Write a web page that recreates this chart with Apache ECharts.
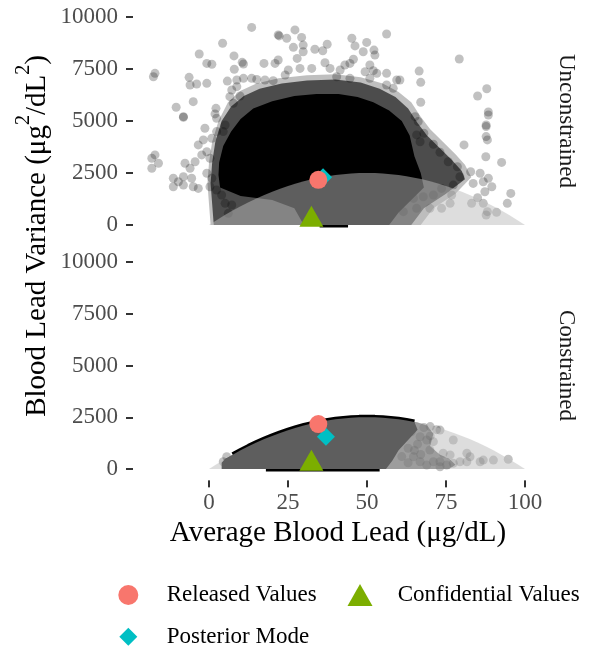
<!DOCTYPE html>
<html><head><meta charset="utf-8">
<script src="https://cdn.jsdelivr.net/npm/echarts@6/dist/echarts.min.js"></script>
<style>html,body{margin:0;padding:0;background:#fff}#c{width:590px;height:647px}</style>
</head><body><div id="c"></div>
<script>
// ---------- data ----------
const xTicks = [0, 25, 50, 75, 100];
const yTicks = [0, 2500, 5000, 7500, 10000];
const panels = ['Unconstrained', 'Constrained'];
const xTitle = 'Average Blood Lead (μg/dL)';
const seriesNames = ['Released Values', 'Confidential Values', 'Posterior Mode'];

// marker values per panel [Unconstrained, Constrained]
const released = [[34.6, 2170], [34.6, 2170]];
const confidential = [[32.4, 250], [32.4, 250]];
const posterior = [[36.1, 2290], [37.0, 1560]];

// feasible-region boundary (grey dome)
const boundary = [[0,0],[2.5,244],[5,475],[7.5,694],[10,900],[12.5,1094],[15,1275],[17.5,1444],[20,1600],[22.5,1744],[25,1875],[27.5,1994],[30,2100],[32.5,2194],[35,2275],[37.5,2344],[40,2400],[42.5,2444],[45,2475],[47.5,2494],[50,2500],[52.5,2494],[55,2475],[57.5,2444],[60,2400],[62.5,2344],[65,2275],[67.5,2194],[70,2100],[72.5,1994],[75,1875],[77.5,1744],[80,1600],[82.5,1444],[85,1275],[87.5,1094],[90,900],[92.5,694],[95,475],[97.5,244],[100,0]];

// Unconstrained panel: individually visible draws
const topPoints = [[13.5,9500],[22.2,9090],[4.3,8740],[-3.1,8220],[7.9,8130],[-0.7,7770],[0.9,7730],[10.5,7820],[10.9,7740],[17.4,7770],[8.0,7490],[-17.1,7290],[-17.6,7130],[-6.3,7100],[-6.0,6730],[-3.9,6780],[-0.7,6810],[5.8,6920],[8.8,6970],[10.9,7050],[13.5,7050],[15.1,7000],[17.7,6970],[20.3,6940],[-5.0,5930],[-10.4,5660],[-8.1,5180],[2.2,5610],[1.9,5340],[7.2,6490],[8.8,6650],[6.6,6170],[9.8,6200],[7.7,5850],
[27.2,9380],[21.9,9140],[24.6,8980],[29.3,9020],[56.2,9180],[26.7,8540],[29.8,8650],[29.8,8330],[33.5,8450],[36.0,8380],[37.4,8690],[45.2,8980],[46.2,8610],[49.9,8780],[52.2,8410],[52.5,8170],[48.8,8330],[27.9,8010],[21.9,7930],[20.9,7770],[36.7,7800],[38.3,7530],[45.7,7970],[43.0,7690],[44.6,7770],[50.9,7690],[52.0,7420],[49.4,7370],[56.2,7290],[53.1,7290],[59.4,6970],[56.2,6730],[58.3,6570],[28.8,7530],[25.1,7450],[24.1,7210],[32.5,7530],[41.5,7450],[40.4,7130],[44.6,7050],[50.9,7050],
[60.4,6970],[66.5,7400],[67.0,6860],[79.2,7980],[87.9,6550],[85.0,6200],[67.0,5900],[88.4,5430],[65.2,5210],[66.2,4970],[87.7,4810],
[88.4,5290],[87.7,4730],[87.7,4250],[88.1,4090],[80.7,3850],[87.6,3280],[92.6,3010],[65.7,4330],[68.0,4410],[66.8,4000],[71.0,3880],[73.1,3500],[75.7,3040],[78.6,2800],[82.8,2560],[85.8,2490],[88.4,2250],[83.6,2000],[86.8,2080],[89.5,1840],[87.3,1600],[85.0,1310],[83.1,1040],[86.8,1040],[95.5,1520],[94.4,1040],[88.1,640],[91.0,610],[87.7,480],[79.4,2320],[77.3,1920],[73.6,1760],[76.8,1440],[76.3,1040],[73.6,800],[69.9,800],[65.7,800],[71.0,1440],[67.8,1360],[64.7,1280],[61.5,640],
[-8.1,5210],[-1.3,4650],[-17.1,3370],[-18.1,3210],[-16.0,2970],[-18.1,2730],[-7.6,2970],[-6.0,2730],[-4.4,3040],[-11.3,2250],[-8.1,2320],[-9.7,2080],[-11.3,1840],[-8.1,1920],[-5.5,2250],[-5.0,1840],[-3.4,1760],[-3.4,3850],[-1.8,4090],[0.9,4170],[2.4,4490],[-0.7,3520],[0.3,3210],[-2.3,3370],[-0.7,2490],[0.9,2250],[0.3,1840],[2.4,1680],[4.0,1440],[5.1,1040],[6.1,560],[7.2,960],[2.4,5130],[5.1,4810],[4.5,4490]];
// Unconstrained panel: saturated core and semi-dense fringes of the point cloud (outlines)
const topCore = [[30,0],[27,800],[20,1200],[10,1400],[3.5,1800],[3,2400],[3.2,3000],[4.5,3800],[7,4500],[10,5100],[14,5600],[20,5950],[27,6200],[34,6300],[41,6300],[47,6150],[52,5900],[57,5500],[61,5000],[63.5,4300],[65,3300],[67,2500],[68,1800],[64,1200],[60,600],[57,0]];
const topFringe = [[1.5,0],[1,1000],[0.5,2000],[1,3000],[2,4000],[4,5000],[7,5700],[11,6200],[16,6550],[23,6800],[31,6950],[40,7000],[48,6850],[54,6550],[59,6150],[63,5600],[66,4900],[69,4300],[73,3700],[77,3100],[80,2600],[81,2200],[75,1500],[68,800],[64,0]];
const topOuter = [[0.5,0],[0,1000],[-0.5,2000],[0,3000],[1,4000],[3,5000],[6,5900],[10,6450],[15,6800],[22,7050],[31,7200],[40,7250],[48,7100],[55,6800],[60,6400],[64,5900],[67,5200],[70,4600],[74,4000],[78,3400],[81,2900],[83,2300],[78,1500],[71,800],[67,0]];
const topBaseRim = [[35,0],[44,0]];

// Constrained panel
const botPoints = [[73.1,1880],[77.3,1400],[71.0,1320],[69.9,920],[74.1,760],[76.3,680],[81.6,760],[82.6,590],[79.4,350],[77.3,280],[75.2,190],[73.1,110],[81.6,350],[85.8,350],[86.8,430],[90.0,430],[94.7,470],[66.8,1560],[68.9,1400],[64.7,590],[66.8,350],[68.9,190],[71.0,350],[73.1,350],[5.6,590],[4.5,350],[62,2000],[64,1800],[66,1200],[63,1000],[65,900],[61,600],[63,300],[67,700],[70,1600],[68,2000],[70,2050],[72,1900]];
const botCore = [[4,0],[4,300],[5,475],[10,900],[15,1275],[20,1600],[25,1875],[30,2100],[35,2275],[40,2400],[45,2475],[50,2500],[55,2475],[60,2400],[65,2275],[66,1900],[63,1400],[60,900],[58,400],[56,0]];
const botFringe = [[54,0],[56,600],[58,1400],[60,2000],[62,2356],[66,2244],[69,2100],[71,1700],[70,1100],[73,700],[76,500],[78,200],[76,0]];
const botTopRimRange = [6, 67];
const botBaseRim = [[18,0],[54,0]];

// ---------- chart ----------
const FF = "'Liberation Serif', 'DejaVu Serif', serif";
const chart = echarts.init(document.getElementById('c'));
const Y_MIN = -500, Y_MAX = 10500, X_MIN = -22, X_MAX = 105;

function poly(data, g, color) {
  return {
    type: 'custom', coordinateSystem: 'cartesian2d', xAxisIndex: g, yAxisIndex: g, z: 1,
    data: data, silent: true, encode: {x: 0, y: 1},
    renderItem: (params, api) => params.dataIndex === 0 ? {
      type: 'polygon', shape: {points: data.map(p => api.coord(p))}, style: {fill: color}
    } : null
  };
}
function rim(data, g, w) {
  return {type: 'line', xAxisIndex: g, yAxisIndex: g, data: data, symbol: 'none', silent: true, z: 1,
    lineStyle: {color: '#000', width: w}};
}
function pts(data, g) {
  return {type: 'scatter', xAxisIndex: g, yAxisIndex: g, data: data, symbolSize: 9, silent: true, z: 1,
    itemStyle: {color: 'rgba(0,0,0,0.3)'}};
}
function dome(g) {
  return {type: 'line', xAxisIndex: g, yAxisIndex: g, data: boundary, symbol: 'none', silent: true, z: 2,
    lineStyle: {width: 0, opacity: 0}, areaStyle: {color: 'rgba(187,187,187,0.5)', opacity: 1}};
}
function markers(g) {
  return [
    {name: seriesNames[2], type: 'scatter', xAxisIndex: g, yAxisIndex: g, data: [posterior[g]], z: 3,
      symbol: 'diamond', symbolSize: 18, itemStyle: {color: '#00BFC4', opacity: 1}},
    {name: seriesNames[0], type: 'scatter', xAxisIndex: g, yAxisIndex: g, data: [released[g]], z: 4,
      symbol: 'circle', symbolSize: 18, itemStyle: {color: '#F8766D', opacity: 1}},
    {name: seriesNames[1], type: 'scatter', xAxisIndex: g, yAxisIndex: g, data: [confidential[g]], z: 5,
      symbol: 'triangle', symbolSize: [24, 21], symbolOffset: [0, -3.5], itemStyle: {color: '#7CAE00', opacity: 1}}
  ];
}

const series = [
  poly(topOuter, 0, 'rgba(0,0,0,0.25)'),
  poly(topFringe, 0, 'rgba(0,0,0,0.6)'),
  poly(topCore, 0, '#000'),
  rim(topBaseRim, 0, 5),
  pts(topPoints, 0),
  dome(0),
  ...markers(0),
  poly(botFringe, 1, 'rgba(0,0,0,0.5)'),
  poly(botCore, 1, '#000'),
  rim(boundary.filter(p => p[0] >= botTopRimRange[0] && p[0] <= botTopRimRange[1]), 1, 5),
  rim(botBaseRim, 1, 5),
  pts(botPoints, 1),
  dome(1),
  ...markers(1)
];

const labelStyle = {color: '#4d4d4d', fontSize: 23, fontFamily: FF, formatter: v => String(v)};

function yAx(g) {
  return {gridIndex: g, type: 'value', min: Y_MIN, max: Y_MAX, offset: 6.5,
    axisLine: {show: true, onZero: false, lineStyle: {color: 'rgba(0,0,0,0)'}}, splitLine: {show: false},
    axisTick: {show: true, inside: false, length: 7, lineStyle: {color: '#333333', width: 2}, customValues: yTicks},
    axisLabel: Object.assign({customValues: yTicks, margin: 15}, labelStyle)};
}

const legendText = (pad) => ({fontSize: 23, fontFamily: FF, color: '#000', lineHeight: 26, padding: [0, 0, 0, pad]});

const textGraphics = [
  {type: 'text', x: 338, y: 533, silent: true,
    style: {text: xTitle, fontSize: 29, fontFamily: FF, fill: '#000', align: 'center', verticalAlign: 'middle'}},
  {type: 'text', x: 33, y: 236, rotation: Math.PI / 2, silent: true,
    style: {text: '{m|Blood Lead Variance (μg}{s|2}{m|/dL}{s|2}{m|)}', align: 'center', verticalAlign: 'middle',
      rich: {
        m: {fontSize: 29, fontFamily: FF, fill: '#000', color: '#000', lineHeight: 38, verticalAlign: 'bottom'},
        s: {fontSize: 20, fontFamily: FF, fill: '#000', color: '#000', lineHeight: 20, verticalAlign: 'top'}
      }}},
  {type: 'text', x: 566, y: 121, rotation: -Math.PI / 2, silent: true,
    style: {text: panels[0], fontSize: 23, fontFamily: FF, fill: '#1a1a1a', align: 'center', verticalAlign: 'middle'}},
  {type: 'text', x: 566, y: 365.5, rotation: -Math.PI / 2, silent: true,
    style: {text: panels[1], fontSize: 23, fontFamily: FF, fill: '#1a1a1a', align: 'center', verticalAlign: 'middle'}}
];

chart.setOption({
  animation: false,
  backgroundColor: '#fff',
  grid: [
    {left: 139.5, top: 6.6, width: 401.3, height: 228.8},
    {left: 139.5, top: 251.65, width: 401.3, height: 227.7}
  ],
  xAxis: [
    {gridIndex: 0, type: 'value', min: X_MIN, max: X_MAX, show: false},
    {gridIndex: 1, type: 'value', min: X_MIN, max: X_MAX, offset: 1, position: 'bottom',
      axisLine: {show: false, onZero: false}, splitLine: {show: false},
      axisTick: {show: false},
      axisLabel: Object.assign({customValues: xTicks, margin: 11}, labelStyle)}
  ],
  yAxis: [yAx(0), yAx(1)],
  legend: [
    {data: [{name: seriesNames[0], icon: 'circle'}], left: 118.3, top: 582, padding: 0,
      itemWidth: 20, itemHeight: 20, selectedMode: false, textStyle: legendText(23.4)},
    {data: [{name: seriesNames[1], icon: 'triangle'}], left: 347.5, top: 582, padding: 0,
      itemWidth: 25, itemHeight: 22, selectedMode: false, textStyle: legendText(20.2)},
    {data: [{name: seriesNames[2], icon: 'diamond'}], left: 119.3, top: 623.7, padding: 0,
      itemWidth: 18, itemHeight: 18, selectedMode: false, textStyle: legendText(24.4)}
  ],
  graphic: textGraphics,
  series: series
});

// x-axis tick marks under the lower panel, positioned through the lower panel's scales
const tickGraphics = xTicks.map(v => {
  const p = chart.convertToPixel({xAxisIndex: 1, yAxisIndex: 1}, [v, Y_MIN]);
  return {type: 'line', silent: true, z: 100,
    shape: {x1: p[0], y1: p[1] + 1, x2: p[0], y2: p[1] + 8},
    style: {stroke: '#333333', lineWidth: 2}};
});
chart.setOption({graphic: textGraphics.concat(tickGraphics)});
</script></body></html>
